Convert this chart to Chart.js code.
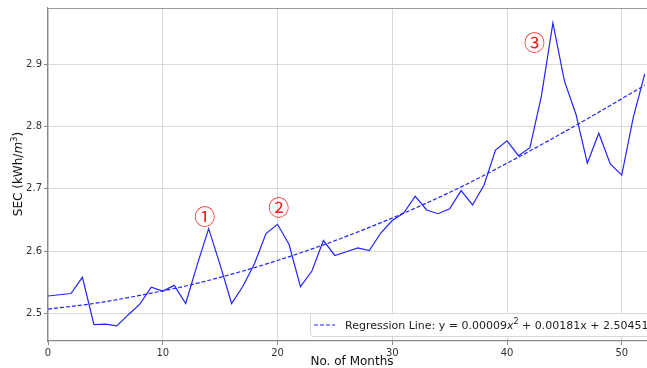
<!DOCTYPE html>
<html>
<head>
<meta charset="utf-8">
<script src="https://cdn.jsdelivr.net/npm/chart.js@4.4.0/dist/chart.umd.min.js"></script>
<style>
  html, body { margin: 0; padding: 0; background: #fff; }
  canvas { display: block; }
</style>
</head>
<body>
<canvas id="graficoSec" width="647" height="368"></canvas>
<script>
// meses 0..52
const months = [0,1,2,3,4,5,6,7,8,9,10,11,12,13,14,15,16,17,18,19,20,21,22,23,24,25,26,
  27,28,29,30,31,32,33,34,35,36,37,38,39,40,41,42,43,44,45,46,47,48,49,50,51,52];
const secValues = [2.528,2.530,2.532,2.558,2.482,2.483,2.480,2.498,2.515,2.542,2.536,
  2.545,2.516,2.578,2.636,2.578,2.516,2.544,2.580,2.628,2.643,2.611,2.543,2.568,2.617,
  2.593,2.599,2.605,2.601,2.629,2.649,2.661,2.688,2.666,2.660,2.668,2.697,2.674,2.706,
  2.762,2.777,2.753,2.766,2.849,2.966,2.873,2.820,2.741,2.789,2.740,2.722,2.814,2.884];

// regression curve
const fitMonths = [0,4,8,12,16,20,24,28,32,36,40,44,48,52];
const fitValues = [2.507,2.516,2.529,2.544,2.563,2.585,2.610,2.638,2.669,2.703,2.741,2.781,2.823,2.866];

const xTicks = [0,10,20,30,40,50];
const yTicks = [2.5,2.6,2.7,2.8,2.9];

const markerLabels = ["\u2460","\u2461","\u2462"];
const markerMonths = [13.65, 20.1, 42.4];
const markerValues = [2.657, 2.670, 2.936];

const FONT = "'DejaVu Sans', sans-serif";
const BLUE = "#2323ff";

const extras = {
  id: "extras",
  afterDraw(chart) {
    const ctx = chart.ctx;
    const a = chart.chartArea;
    const xs = chart.scales.x, ys = chart.scales.y;
    ctx.save();

    // top spine
    ctx.strokeStyle = "#999";
    ctx.lineWidth = 1.2;
    ctx.beginPath();
    ctx.moveTo(a.left, a.top + 0.5);
    ctx.lineTo(a.right, a.top + 0.5);
    ctx.stroke();

    // circled markers
    ctx.fillStyle = "#ff1a1a";
    ctx.font = "21px 'Noto Sans CJK JP'";
    ctx.textAlign = "center";
    ctx.textBaseline = "middle";
    markerLabels.forEach((t, i) => {
      ctx.fillText(t, xs.getPixelForValue(markerMonths[i]), ys.getPixelForValue(markerValues[i]));
    });

    // legend box
    const bx = 310, by = a.bottom - 28, bh = 23;
    ctx.fillStyle = "rgba(255,255,255,0.85)";
    ctx.strokeStyle = "#d6d6d6";
    ctx.lineWidth = 1;
    ctx.beginPath();
    ctx.roundRect(bx + 0.5, by + 0.5, 400, bh, 3);
    ctx.fill();
    ctx.stroke();

    ctx.strokeStyle = BLUE;
    ctx.lineWidth = 1.2;
    ctx.setLineDash([4, 2]);
    ctx.beginPath();
    ctx.moveTo(bx + 4, by + 12);
    ctx.lineTo(bx + 25, by + 12);
    ctx.stroke();
    ctx.setLineDash([]);

    ctx.fillStyle = "#222";
    ctx.textAlign = "left";
    ctx.textBaseline = "alphabetic";
    let tx = bx + 35;
    const ty = by + 16;
    const parts = [
      ["Regression Line: y = 0.00009", "11px " + FONT, 0],
      ["x", "italic 11px " + FONT, 0],
      ["2", "8px " + FONT, -5],
      [" + 0.00181x + 2.50451", "11px " + FONT, 0]
    ];
    parts.forEach(p => {
      ctx.font = p[1];
      ctx.fillText(p[0], tx, ty + p[2]);
      tx += ctx.measureText(p[0]).width;
    });

    // axis titles
    ctx.fillStyle = "#111";
    ctx.font = "12px " + FONT;
    ctx.textAlign = "center";
    ctx.fillText("No. of Months", 352, 365);

    const yParts = [
      ["SEC (kWh/", "12px " + FONT, 0],
      ["m", "italic 12px " + FONT, 0],
      ["3", "8.5px " + FONT, -5],
      [")", "12px " + FONT, 0]
    ];
    let total = 0;
    yParts.forEach(p => { ctx.font = p[1]; total += ctx.measureText(p[0]).width; });
    ctx.translate(22, 174);
    ctx.rotate(-Math.PI / 2);
    ctx.textAlign = "left";
    let px = -total / 2;
    yParts.forEach(p => {
      ctx.font = p[1];
      ctx.fillText(p[0], px, p[2]);
      px += ctx.measureText(p[0]).width;
    });
    ctx.restore();
  }
};

const ctx = document.getElementById("graficoSec");

new Chart(ctx, {
  type: "line",
  data: {
    datasets: [
      {
        label: "SEC",
        data: months.map((m, i) => ({ x: m, y: secValues[i] })),
        borderColor: BLUE,
        borderWidth: 1.2,
        pointRadius: 0,
        tension: 0
      },
      {
        label: "Regression Line",
        data: fitMonths.map((m, i) => ({ x: m, y: fitValues[i] })),
        borderColor: BLUE,
        borderWidth: 1.2,
        borderDash: [4, 2],
        pointRadius: 0,
        cubicInterpolationMode: "monotone"
      }
    ]
  },
  options: {
    responsive: false,
    animation: false,
    layout: { padding: { top: 7, right: 0, left: 0, bottom: 0 } },
    plugins: { legend: { display: false }, tooltip: { enabled: false } },
    scales: {
      x: {
        type: "linear",
        min: 0,
        max: 52.2,
        afterFit(s) { s.height = 27; },
        afterBuildTicks(s) { s.ticks = xTicks.map(v => ({ value: v })); },
        grid: { color: "#d9d9d9", tickColor: "#888", tickLength: 4 },
        border: { color: "#888", width: 1.2 },
        ticks: { padding: 2, color: "#333", font: { family: "DejaVu Sans", size: 10 }, callback: v => String(v) }
      },
      y: {
        type: "linear",
        min: 2.4558,
        max: 2.990,
        afterFit(s) { s.width = 48; },
        afterBuildTicks(s) { s.ticks = yTicks.map(v => ({ value: v })); },
        grid: { color: "#d9d9d9", tickColor: "#888", tickLength: 4 },
        border: { color: "#888", width: 1.2 },
        ticks: { padding: 2, color: "#333", font: { family: "DejaVu Sans", size: 10 }, callback: v => v.toFixed(1) }
      }
    }
  },
  plugins: [extras]
});
</script>
</body>
</html>
